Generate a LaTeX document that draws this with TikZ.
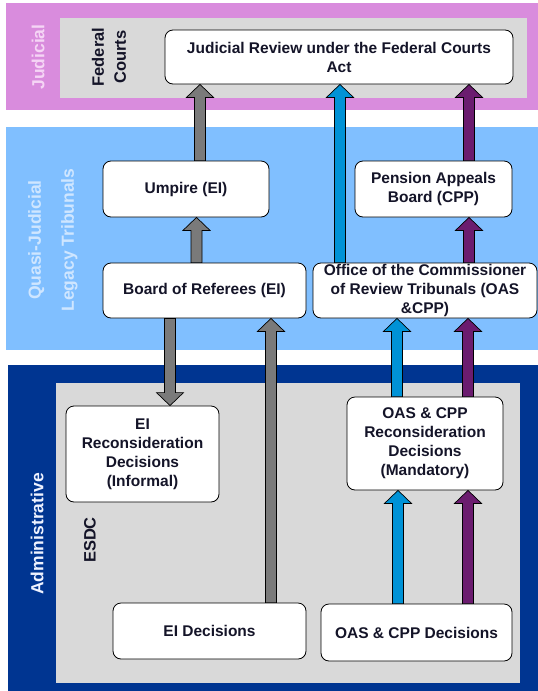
\documentclass[tikz,border=0pt]{standalone}
\usepackage{fontspec}
\setmainfont{Liberation Sans}
\usetikzlibrary{calc}
\usetikzlibrary{positioning}

\definecolor{judpink}{HTML}{D98CDD}
\definecolor{quasiblue}{HTML}{80BFFF}
\definecolor{adminblue}{HTML}{003591}
\definecolor{innergray}{HTML}{D9D9D9}
\definecolor{arrgray}{HTML}{7A7A7A}
\definecolor{arrblue}{HTML}{0092D6}
\definecolor{arrpurple}{HTML}{6B1C6F}
\definecolor{boxtext}{HTML}{141428}
\definecolor{judtext}{HTML}{F5D5F5}
\definecolor{quasitext}{HTML}{CFE6FF}
\definecolor{admintext}{HTML}{EEF2FF}

\newcommand{\boxfont}{\fontsize{15.5}{19}\selectfont\bfseries}
\newcommand{\bandfont}{\fontsize{17.5}{19}\selectfont\bfseries}
\newcommand{\subfont}{\fontsize{16.5}{22}\selectfont\bfseries}

\tikzstyle{boxnode} = [draw, rounded corners=8pt, fill=white, line width=0.8pt, align=center, inner sep=1pt, font=\boxfont, text=boxtext]
\tikzstyle{bandlabel} = [rotate=90, align=center, font=\bandfont]
\tikzstyle{sublabel} = [rotate=90, align=center, font=\subfont, text=boxtext]
% vertical block arrows, #2 is the head length counted back from the tip
\tikzset{
    blockarrow/.style 2 args={draw=black, line width=0.7pt, fill=#1,
        to path={let \p1=(\tikztostart), \p2=(\tikztotarget) in
            (\x1-5.5pt,\y1) -- (\x1-5.5pt,\y2#2) -- (\x1-13.5pt,\y2#2) -- (\x1,\y2)
            -- (\x1+13.5pt,\y2#2) -- (\x1+5.5pt,\y2#2) -- (\x1+5.5pt,\y1) -- cycle}},
    uparrow/.style={blockarrow={#1}{-13pt}},
    downarrow/.style={blockarrow={#1}{+13pt}}
}

\begin{document}
\begin{tikzpicture}[x=1pt, y=-1pt]
    \useasboundingbox (0,0) rectangle (538,691);

    % bands
    \fill[judpink] (6,3) rectangle (538,110);
    \fill[quasiblue] (6,127) rectangle (538,350);
    \fill[adminblue] (8,365) rectangle (538,691);
    \fill[innergray] (60,18) rectangle (527,98);
    \fill[innergray] (56,383) rectangle (520,683);

    \node[bandlabel, text=judtext] (lbl_jud) at (38,57) {Judicial};
    \node[bandlabel, text=quasitext] (lbl_quasi) at (53,240) {Quasi-Judicial\\[14pt]Legacy Tribunals};
    \node[bandlabel, text=admintext] (lbl_admin) at (37,534) {Administrative};
    \node[sublabel] (lbl_fed) at (109,57) {Federal\\Courts};
    \node[sublabel] (lbl_esdc) at (90,540) {ESDC};

    % boxes
    \node[boxnode, minimum width=348, minimum height=54] (jud_review) at (339,57) {Judicial Review under the Federal Courts\\Act};
    \node[boxnode, minimum width=166, minimum height=56] (umpire) at (186,189) {Umpire (EI)};
    \node[boxnode, minimum width=157, minimum height=56] (pab) at (433.5,189) {Pension Appeals\\Board (CPP)};
    \node[boxnode, minimum width=203, minimum height=55] (referees) at (204.5,290.5) {Board of Referees (EI)};
    \node[boxnode, minimum width=224, minimum height=55] (ocrt) at (425,290.5) {Office of the Commissioner\\of Review Tribunals (OAS\\\&CPP)};
    \node[boxnode, minimum width=153, minimum height=96] (ei_recon) at (142.5,454) {EI\\Reconsideration\\Decisions\\(Informal)};
    \node[boxnode, minimum width=156, minimum height=93] (oas_recon) at (425,443.5) {OAS \& CPP\\Reconsideration\\Decisions\\(Mandatory)};
    \node[boxnode, minimum width=193, minimum height=56] (ei_dec) at (209.5,631) {EI Decisions};
    \node[boxnode, minimum width=191, minimum height=57] (oas_dec) at (416.5,632.5) {OAS \& CPP Decisions};

    % appeal routes
    \draw[uparrow=arrgray] ([xshift=14pt]umpire.north) to (jud_review.south);
    \draw[uparrow=arrgray] ([xshift=-8pt]referees.north) to (umpire.south);
    \draw[uparrow=arrblue] ([xshift=-85pt]ocrt.north) to (jud_review.south);
    \draw[uparrow=arrpurple] ([xshift=35.5pt]pab.north) to (jud_review.south);
    \draw[uparrow=arrpurple] ([xshift=44pt]ocrt.north) to (pab.south);
    \draw[downarrow=arrgray] ([xshift=-34.5pt]referees.south) to (ei_recon.north);
    \draw[uparrow=arrgray] ([xshift=61.5pt]ei_dec.north) to (referees.south);
    \draw[uparrow=arrblue] ([xshift=-28pt]oas_recon.north) to (ocrt.south);
    \draw[uparrow=arrpurple] ([xshift=43pt]oas_recon.north) to (ocrt.south);
    \draw[uparrow=arrblue] ([xshift=-18.5pt]oas_dec.north) to (oas_recon.south);
    \draw[uparrow=arrpurple] ([xshift=51.5pt]oas_dec.north) to (oas_recon.south);
\end{tikzpicture}
\end{document}
